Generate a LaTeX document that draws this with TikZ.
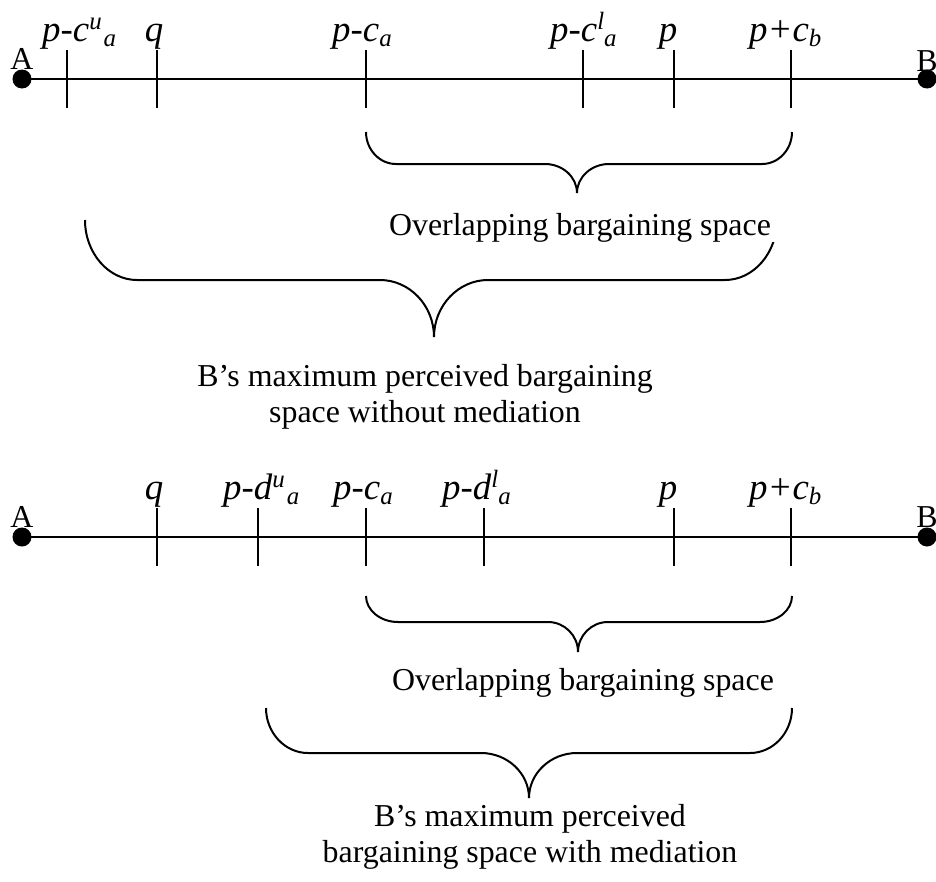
\documentclass[tikz,border=0pt]{standalone}
\usepackage{fontspec}
\setmainfont{Liberation Serif}
\newcommand{\scr}[1]{{\fontsize{25}{25}\selectfont\itshape #1}}
\newcommand{\mysup}[1]{\raisebox{12bp}{\scr{#1}}}
\newcommand{\mysub}[1]{\raisebox{-5bp}{\scr{#1}}}
% x1 x2 ytop yh xm ytip r r2
\newcommand{\wbrace}[8]{%
 \draw[brc] (#1,#3) .. controls (#1,{#3+0.55*(#4-#3)}) and ({#1+0.45*#7},#4) .. ({#1+#7},#4)
  -- ({#5-#8},#4) .. controls ({#5-0.45*#8},#4) and (#5,{#6-0.55*(#6-#4)}) .. (#5,#6)
  .. controls (#5,{#6-0.55*(#6-#4)}) and ({#5+0.45*#8},#4) .. ({#5+#8},#4)
  -- ({#2-#7},#4) .. controls ({#2-0.45*#7},#4) and (#2,{#3+0.55*(#4-#3)}) .. (#2,#3);}
\begin{document}
\begin{tikzpicture}[x=1bp,y=-1bp,
  axis/.style={line width=2.2bp},
  tk/.style={line width=2.2bp},
  brc/.style={line width=2bp},
  dot/.style={circle,fill=black,inner sep=0pt,minimum size=19bp},
  lab/.style={font=\fontsize{37}{37}\selectfont\itshape,inner sep=0pt,anchor=base west},
  labc/.style={lab,anchor=base},
  endl/.style={font=\fontsize{32}{32}\selectfont,inner sep=0pt,anchor=base},
  txt/.style={font=\fontsize{32}{36}\selectfont,inner sep=0pt,align=center}]
\useasboundingbox (0,0) rectangle (936,882);
\fill[white] (0,0) rectangle (936,882);

% ---------- top scale ----------
\node[endl] (Alab1) at (22,69) {A};
\node[endl] (Blab1) at (927,71) {B};
\node[dot] (A1) at (22,79) {};
\node[dot] (B1) at (927,79) {};
\draw[axis] (A1.center) -- (B1.center);
\foreach \x in {67,157,366,583,674,791} \draw[tk] (\x,50) -- (\x,108);

\node[lab]  (t1) at (42,41)  {p-c\mysup{u}\kern2bp\mysub{a}};
\node[labc] (t2) at (154,41) {q};
\node[lab]  (t3) at (332,41) {p-c\mysub{a}};
\node[lab]  (t4) at (550,41) {p-c\mysup{l}\mysub{a}};
\node[labc] (t5) at (668,41) {p};
\node[lab]  (t6) at (749,41) {p+c\mysub{b}};

\wbrace{366}{792}{132}{164}{577}{193}{30}{32}
\wbrace{85}{777}{220}{280}{434}{337}{52}{54}

\node[txt,anchor=base,fill=white,minimum width=400bp] (ov1) at (580,235) {Overlapping bargaining space};
\node[txt,anchor=north] (bm1) at (425,364) {B’s maximum perceived bargaining\\space without mediation};

% ---------- bottom scale ----------
\node[endl] (Alab2) at (22,527) {A};
\node[endl] (Blab2) at (927,527) {B};
\node[dot] (A2) at (22,537) {};
\node[dot] (B2) at (927,537) {};
\draw[axis] (A2.center) -- (B2.center);
\foreach \x in {157,258,366,484,674,791} \draw[tk] (\x,508) -- (\x,566);

\node[labc] (b1) at (154,499) {q};
\node[lab]  (b2) at (223,499) {p-d\mysup{u}\kern2bp\mysub{a}};
\node[lab]  (b3) at (333,499) {p-c\mysub{a}};
\node[lab]  (b4) at (442,499) {p-d\mysup{l}\mysub{a}};
\node[labc] (b5) at (668,499) {p};
\node[lab]  (b6) at (749,499) {p+c\mysub{b}};

\wbrace{366}{792}{596}{622}{578}{652}{32}{30}
\wbrace{266}{792}{708}{753}{529}{798}{42}{48}

\node[txt,anchor=base] (ov2) at (583,690) {Overlapping bargaining space};
\node[txt,anchor=north] (bm2) at (530,804) {B’s maximum perceived\\bargaining space with mediation};
\end{tikzpicture}
\end{document}
